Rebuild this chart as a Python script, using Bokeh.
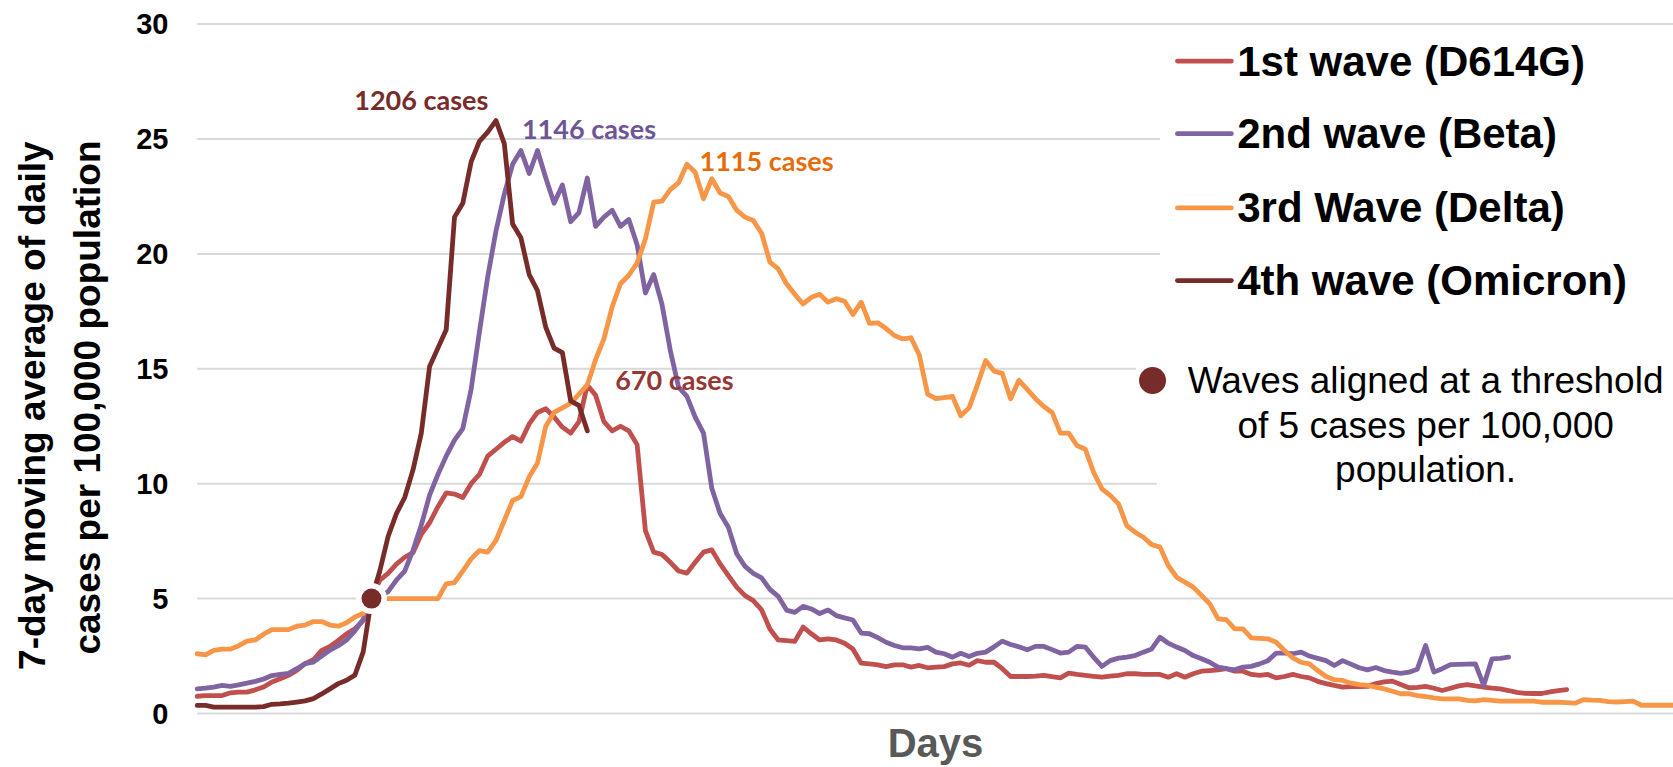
import numpy as np
from bokeh.plotting import figure
from bokeh.models import Range1d
from bokeh.embed import file_html
from bokeh.resources import INLINE
from bokeh.core.properties import value

# ---------------- data (7-day moving average per 100,000, by day) ----------------
wave1_d614g = [0.75, 0.78, 0.78, 0.78, 0.9, 0.93, 0.93, 1.03, 1.15, 1.37, 1.51, 1.66, 1.87, 2.17, 2.34,
               2.75, 2.92, 3.18, 3.47, 3.69, 4.05, 5.0,
               5.8, 6.1, 6.5, 6.8, 7.0, 7.8, 8.3, 9.0, 9.6, 9.55, 9.4, 10.0, 10.4, 11.2, 11.5, 11.8,
               12.05, 11.85, 12.6, 13.1, 13.26, 12.9, 12.46, 12.2, 12.7, 14.3, 13.85, 12.7, 12.3, 12.5,
               12.3, 11.7,
               7.96, 7.02, 6.92, 6.58, 6.2, 6.11, 6.58, 7.02, 7.12, 6.51, 6.0, 5.5, 5.13, 4.91, 4.51,
               3.68, 3.2, 3.17, 3.14, 3.76, 3.47, 3.2, 3.25, 3.2, 3.06, 2.81, 2.19, 2.16, 2.12, 2.04,
               2.12, 2.12, 2.02, 2.09, 1.99, 2.02, 2.04, 2.16, 2.2, 2.1, 2.3,
               2.23, 2.23, 1.95, 1.61, 1.61, 1.61, 1.63, 1.66, 1.6, 1.55, 1.76, 1.7, 1.66, 1.62, 1.58,
               1.63, 1.66, 1.73, 1.73, 1.7, 1.7, 1.7, 1.58, 1.73, 1.58, 1.73, 1.84, 1.87, 1.9, 1.95,
               1.84, 1.84, 1.7, 1.66, 1.7, 1.55, 1.61, 1.7, 1.61, 1.55, 1.4, 1.3, 1.22, 1.15, 1.17,
               1.17, 1.18, 1.3, 1.38, 1.41, 1.26, 1.12, 1.14, 1.18, 1.1, 1.0, 1.1, 1.2, 1.26, 1.2,
               1.15, 1.1, 1.07, 1.0, 0.92, 0.88, 0.87, 0.87, 0.94, 1.0, 1.04]

wave2_beta = [1.07, 1.1, 1.15, 1.22, 1.18, 1.25, 1.32, 1.4, 1.5, 1.65, 1.7, 1.75, 1.95, 2.17, 2.24,
              2.5, 2.76, 2.95, 3.2, 3.6, 4.1, 5.0,
              5.1, 5.3, 5.8, 6.2, 7.1, 8.2, 9.5, 10.4, 11.2, 11.9, 12.4, 14.1, 16.6, 19.0, 21.0, 22.6,
              23.9, 24.5, 23.5, 24.5, 23.3, 22.2, 23.0, 21.4, 21.8, 23.3, 21.2, 21.6, 21.9, 21.2,
              21.5, 20.4,
              18.3, 19.1, 17.8, 15.8, 14.2, 13.8, 12.9, 12.2, 9.8, 8.7, 8.1, 6.95, 6.4, 6.1, 5.9,
              5.4, 5.1, 4.5, 4.4, 4.66, 4.55, 4.35, 4.5, 4.26, 4.16, 4.07, 3.5, 3.47, 3.3, 3.1,
              2.96, 2.86, 2.86, 2.81, 2.88, 2.67, 2.6, 2.45, 2.62, 2.48, 2.62,
              2.67, 2.9, 3.15, 3.0, 2.9, 2.77, 2.92, 2.92, 2.78, 2.63, 2.67, 2.92, 2.89, 2.45, 2.05,
              2.3, 2.41, 2.45, 2.52, 2.67, 2.81, 3.32, 3.06, 2.89, 2.74, 2.52, 2.38, 2.23, 2.02,
              1.95, 1.9, 2.02, 2.05, 2.16, 2.3, 2.63, 2.63, 2.6, 2.67, 2.5, 2.4, 2.3, 2.09, 2.3,
              2.15, 1.99, 1.9, 2.0, 1.87, 1.8, 1.75, 1.8, 1.93, 2.96, 1.8, 1.95, 2.13, 2.14, 2.15,
              2.16, 1.22, 2.38, 2.4, 2.45]

wave3_delta = [2.6, 2.55, 2.75, 2.8, 2.8, 2.95, 3.15, 3.2, 3.45, 3.65, 3.65, 3.65, 3.8, 3.85, 4.0,
               4.0, 3.85, 3.8, 3.95, 4.2, 4.35,
               5.0, 5.0, 5.0, 5.0, 5.0, 5.0, 5.0, 5.0, 5.0,
               5.64, 5.7, 6.2, 6.73, 7.09, 7.02, 7.53, 8.4, 9.27, 9.44, 10.3, 10.9, 12.5, 13.1, 13.3,
               13.5, 13.9, 14.3, 15.4, 16.3, 17.7, 18.7, 19.07, 19.6, 20.65, 22.25, 22.3, 22.8,
               23.1, 23.9,
               23.55, 22.4, 23.27, 22.65, 22.5, 21.9, 21.6, 21.45, 20.9, 19.64, 19.35, 18.7, 18.24,
               17.82, 18.11, 18.24, 17.9, 18.05, 17.94, 17.36, 17.9, 16.98, 17.0, 16.75, 16.45,
               16.3, 16.35, 15.6, 13.9, 13.7, 13.75, 13.8, 12.96, 13.3, 14.3, 15.36, 14.9, 14.8,
               13.7, 14.5, 14.1, 13.7, 13.36, 13.1, 12.2, 12.2, 11.66, 11.5, 10.5,
               9.78, 9.49, 9.12, 8.18, 7.89, 7.67, 7.35, 7.24, 6.44, 5.93, 5.72, 5.5, 5.14, 4.77,
               4.12, 4.08, 3.68, 3.68, 3.29, 3.27, 3.25, 3.1, 2.74, 2.42, 2.23, 2.16, 1.87, 1.61,
               1.47, 1.44, 1.32, 1.26, 1.22, 1.15, 1.07, 0.97, 0.86, 0.86, 0.78, 0.74, 0.68, 0.64,
               0.64, 0.64, 0.57, 0.55, 0.6, 0.57, 0.54, 0.54, 0.54, 0.54, 0.54, 0.49, 0.49, 0.49,
               0.47, 0.45, 0.6, 0.58, 0.57, 0.52, 0.5, 0.52, 0.54, 0.36, 0.36, 0.36, 0.36, 0.36]

wave4_omicron = [0.35, 0.35, 0.28, 0.28, 0.28, 0.28, 0.28, 0.28, 0.3, 0.4, 0.42, 0.45, 0.5, 0.55,
                 0.65, 0.85, 1.07, 1.3, 1.45, 1.67, 2.68, 5.0,
                 6.2, 7.7, 8.7, 9.4, 10.6, 12.2, 15.1, 15.9, 16.7, 21.6, 22.2, 24.0, 24.9, 25.3,
                 25.8, 24.8, 21.3, 20.7, 19.1, 18.4, 16.8, 15.9, 15.7, 13.6, 13.4, 12.3]

series_names = ["1st wave (D614G)", "2nd wave (Beta)", "3rd Wave (Delta)", "4th wave (Omicron)"]
series_values = [wave1_d614g, wave2_beta, wave3_delta, wave4_omicron]
series_colors = ["#C0504D", "#8064A2", "#F79646", "#772C2A"]

threshold_day = 21
threshold_value = 5

peak_labels = ["670 cases", "1146 cases", "1115 cases", "1206 cases"]
peak_label_colors = ["#953735", "#6E5596", "#E46C0A", "#772C2A"]
peak_label_x = [57.5, 47.2, 68.6, 27.0]
peak_label_y = [14.55, 25.45, 24.05, 26.7]

y_ticks = [0, 5, 10, 15, 20, 25, 30]
y_tick_labels = [str(t) for t in y_ticks]
grid_end = [180, 180, 115.6, 113.1, 116.0, 116.0, 180]   # where each gridline stops

y_title_lines = ["7-day moving  average of daily", "cases per 100,000 population"]
x_title = "Days"
note_lines = ["Waves aligned at a threshold", "of 5 cases per 100,000", "population."]

# ---------------- figure (frame covers the whole canvas) ----------------
PX_DAY = 8.3
PX_UNIT = 22.98
X0, Y0 = 196.7, 713.0          # canvas position of day 0 / value 0
W, H = 1673, 767

p = figure(width=W, height=H, output_backend="svg", toolbar_location=None,
           x_range=Range1d(-X0 / PX_DAY, (W - X0) / PX_DAY),
           y_range=Range1d(-(H - Y0) / PX_UNIT, Y0 / PX_UNIT),
           x_axis_location=None, y_axis_location=None, min_border=0)
p.outline_line_color = None
p.grid.visible = False
p.background_fill_color = "white"
p.border_fill_color = "white"

# gridlines + tick labels
p.segment(x0=[0] * len(y_ticks), x1=grid_end, y0=y_ticks, y1=y_ticks,
          line_color="#D9D9D9", line_width=2)
p.text(x=[-3.46] * len(y_ticks), y=y_ticks, text=y_tick_labels, text_color="black",
       text_font=value("Liberation Sans"), text_font_style="bold", text_font_size="29px",
       text_align="right", text_baseline="middle")

# series lines
for vals, col in zip(series_values, series_colors):
    days = list(range(len(vals)))
    p.line(days, vals, line_color=col, line_width=4.8, line_join="round", line_cap="round")

# alignment point
p.scatter([threshold_day], [threshold_value], size=31, fill_color="white", line_color=None)
p.scatter([threshold_day], [threshold_value], size=20, fill_color="#772C2A", line_color=None)

# peak labels
p.text(x=peak_label_x, y=peak_label_y, text=peak_labels, text_color=peak_label_colors,
       text_font=value("Lato"), text_font_style="bold", text_font_size="27px",
       text_align="center", text_baseline="middle")

# legend (drawn manually)
leg_y = [28.39, 25.23, 22.0, 18.84]
p.segment(x0=[118.1] * 4, x1=[124.6] * 4, y0=leg_y, y1=leg_y, line_color=series_colors,
          line_width=4.8, line_cap="round")
p.text(x=[125.3] * 4, y=leg_y, text=series_names, text_color="black",
       text_font=value("Liberation Sans"), text_font_style="bold", text_font_size="42px",
       text_align="left", text_baseline="middle")

# note
p.scatter([115.1], [14.49], size=27, fill_color="#772C2A", line_color=None)
p.text(x=[148.0] * 3, y=[14.49, 12.55, 10.6], text=note_lines, text_color="black",
       text_font=value("Liberation Sans"), text_font_size="37px",
       text_align="center", text_baseline="middle")

# axis titles
p.text(x=[-19.84, -13.22], y=[13.62, 13.75], text=y_title_lines, angle=np.pi / 2,
       text_color="black", text_font=value("Liberation Sans"), text_font_style="bold",
       text_font_size="37px", text_align="center", text_baseline="middle")
p.text(x=[88.95], y=[-1.3], text=[x_title], text_color="#595959",
       text_font=value("Liberation Sans"), text_font_style="bold", text_font_size="40px",
       text_align="center", text_baseline="middle")

open("out.html", "w").write(file_html(p, INLINE))
